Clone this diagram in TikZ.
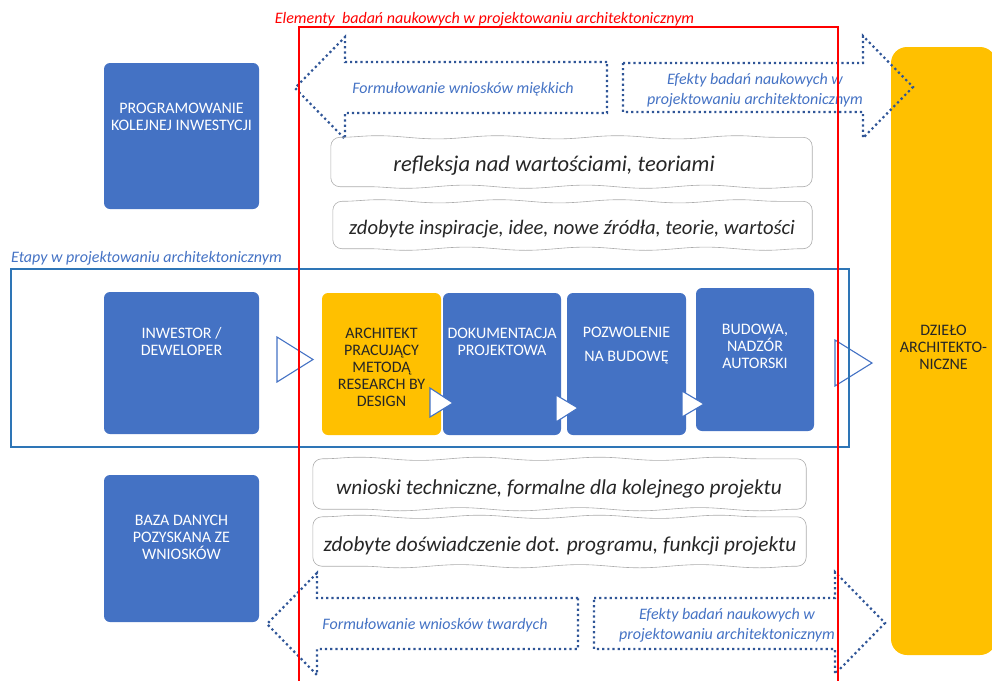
\documentclass[tikz,border=0pt]{standalone}
\usepackage{fontspec}
\setmainfont{Carlito}
\usetikzlibrary{decorations.pathmorphing}
\definecolor{boxblue}{HTML}{4472C4}
\definecolor{dotblue}{HTML}{2F5597}
\definecolor{frameblue}{HTML}{2E75B6}
\definecolor{gold}{HTML}{FFC000}
\definecolor{darktxt}{HTML}{262626}
\newcommand{\wavyframe}[1]{%
    \draw[wavyline] ([xshift=9pt]#1.north west) decorate{-- ([xshift=-9pt]#1.north east)}
        to[out=0,in=90] ([yshift=-9pt]#1.north east) -- ([yshift=9pt]#1.south east)
        to[out=-90,in=0] ([xshift=-9pt]#1.south east) decorate{-- ([xshift=9pt]#1.south west)}
        to[out=180,in=-90] ([yshift=9pt]#1.south west) -- ([yshift=-9pt]#1.north west)
        to[out=90,in=180] ([xshift=9pt]#1.north west);}
\begin{document}
\begin{tikzpicture}[x=1pt,y=-1pt,
    bluebox/.style={fill=boxblue, draw=none, rounded corners=6pt},
    goldbox/.style={fill=gold, draw=none, rounded corners=6pt},
    boxtext/.style={text=white, align=center, inner sep=0pt, font=\fontsize{16}{17}\selectfont},
    darktext/.style={text=darktxt, align=center, inner sep=0pt, font=\fontsize{16}{17}\selectfont},
    wavybox/.style={draw=none, inner sep=0pt},
    wavyline/.style={draw=gray!65, line width=0.6pt, decoration={snake, amplitude=1.6pt, segment length=120pt}},
    wavytext/.style={text=darktxt, inner sep=0pt, font=\fontsize{#1}{24}\selectfont\itshape},
    dotarrow/.style={draw=dotblue, line width=2.2pt, dash pattern=on 2.2pt off 3pt},
    arrowtext/.style={text=boxblue, align=center, inner sep=0pt, font=\fontsize{16}{20}\selectfont\itshape},
    steptri/.style={draw=boxblue, fill=white, line width=1.1pt}]
    \useasboundingbox (0,0) rectangle (992,680);
    \clip (0,0) rectangle (992,680);
    \node[fill=gold, rounded corners=16pt, minimum width=105pt, minimum height=608pt] (dzielo) at (943.5,351) {};
    \node[darktext] (dzielo-t) at (943.5,347.5) {DZIEŁO\\ARCHITEKTO-\\NICZNE};
    \draw[dotarrow] (607,62) -- (345,62) -- (345,37) -- (295,88) -- (345,139) -- (345,113) -- (607,113) -- cycle;
    \node[arrowtext] (miekkie) at (463,89) {Formułowanie wniosków miękkich};
    \draw[dotarrow] (623,63) -- (863,63) -- (863,36) -- (913,87) -- (863,138) -- (863,112) -- (623,112) -- cycle;
    \node[arrowtext] (efekty-g) at (755,90) {Efekty badań naukowych w\\projektowaniu architektonicznym};
    \draw[dotarrow] (578,598) -- (317,598) -- (317,573) -- (267,624) -- (317,675) -- (317,649) -- (578,649) -- cycle;
    \node[arrowtext] (twarde) at (435,625) {Formułowanie wniosków twardych};
    \draw[dotarrow] (594,598) -- (835,598) -- (835,572) -- (885,623) -- (835,674) -- (835,649) -- (594,649) -- cycle;
    \node[arrowtext] (efekty-d) at (727,625) {Efekty badań naukowych w\\projektowaniu architektonicznym};
    \node[wavybox, minimum width=481pt, minimum height=49pt] (refleksja) at (571.5,162) {};
    \wavyframe{refleksja}
    \node[wavytext=22.5] (refleksja-t) at (554,166) {refleksja nad wartościami, teoriami};
    \node[wavybox, minimum width=479pt, minimum height=47pt] (inspiracje) at (572.5,225) {};
    \wavyframe{inspiracje}
    \node[wavytext=20.6] (inspiracje-t) at (572,229) {zdobyte inspiracje, idee, nowe źródła, teorie, wartości};
    \node[wavybox, minimum width=493pt, minimum height=50pt] (wnioski) at (559.5,484) {};
    \wavyframe{wnioski}
    \node[wavytext=21.3] (wnioski-t) at (559,489) {wnioski techniczne, formalne dla kolejnego projektu};
    \node[wavybox, minimum width=493pt, minimum height=49pt] (doswiadczenie) at (559.5,541.5) {};
    \wavyframe{doswiadczenie}
    \node[wavytext=21.3] (doswiadczenie-t) at (560,546) {zdobyte doświadczenie dot. programu, funkcji projektu};
    \node[bluebox, minimum width=155pt, minimum height=146pt] (prog) at (181.5,136) {};
    \node[boxtext] (prog-t) at (181.5,116.5) {PROGRAMOWANIE\\KOLEJNEJ INWESTYCJI};
    \node[bluebox, minimum width=155pt, minimum height=142pt] (inwestor) at (181.5,363) {};
    \node[boxtext] (inwestor-t) at (181.5,341.5) {INWESTOR /\\DEWELOPER};
    \node[bluebox, minimum width=155pt, minimum height=147pt] (baza) at (181.5,548.5) {};
    \node[boxtext] (baza-t) at (181.5,537.5) {BAZA DANYCH\\POZYSKANA ZE\\WNIOSKÓW};
    \node[goldbox, minimum width=119pt, minimum height=142pt] (architekt) at (381.5,364) {};
    \node[darktext] (architekt-t) at (381.5,367) {ARCHITEKT\\PRACUJĄCY\\METODĄ\\RESEARCH BY\\DESIGN};
    \node[bluebox, minimum width=118pt, minimum height=142pt] (dokumentacja) at (502,364) {};
    \node[boxtext] (dokumentacja-t) at (502,341.5) {DOKUMENTACJA\\PROJEKTOWA};
    \node[bluebox, minimum width=119pt, minimum height=142pt] (pozwolenie) at (626.5,364) {};
    \node[boxtext] (pozwolenie-t) at (626.5,345.5) {POZWOLENIE\\[7pt]NA BUDOWĘ};
    \node[bluebox, minimum width=118pt, minimum height=143pt] (budowa) at (755,359.5) {};
    \node[boxtext] (budowa-t) at (755,346.5) {BUDOWA,\\NADZÓR\\AUTORSKI};
    \draw[steptri, fill=none] (277,337) -- (313,359.5) -- (277,382) -- cycle;
    \draw[steptri] (430,388) -- (453,403) -- (430,417) -- cycle;
    \draw[steptri] (556,395) -- (578,408) -- (556,422) -- cycle;
    \draw[steptri] (682,391) -- (704,404) -- (682,417) -- cycle;
    \draw[steptri, fill=none] (835,340) -- (872,363) -- (835,386) -- cycle;
    \draw[frameblue, line width=1.2pt] (11,269) rectangle (849,447);
    \node[text=boxblue, anchor=west, inner sep=0pt, font=\fontsize{16}{18}\selectfont\itshape] (etapy) at (11,258) {Etapy w projektowaniu architektonicznym};
    \draw[red, line width=1.2pt] (299,700) -- (299,27) -- (838,27) -- (838,700);
    \node[text=red, inner sep=0pt, font=\fontsize{16}{18}\selectfont\itshape] (elementy) at (484.5,19) {Elementy\ \ badań naukowych w projektowaniu architektonicznym};
\end{tikzpicture}
\end{document}
